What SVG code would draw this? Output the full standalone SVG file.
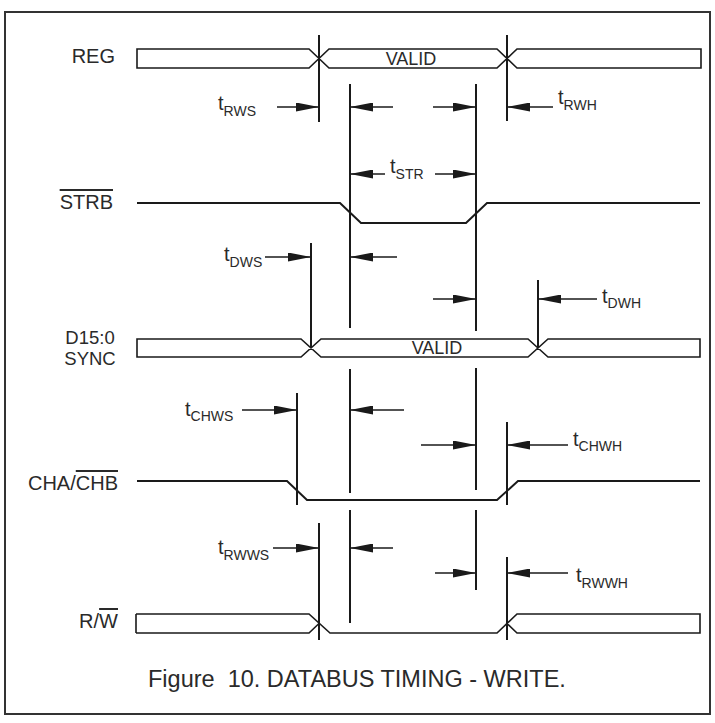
<svg xmlns="http://www.w3.org/2000/svg" width="715" height="723" viewBox="0 0 715 723">
  <defs>
    <marker id="ah" markerUnits="userSpaceOnUse" markerWidth="23" markerHeight="9" refX="23" refY="4.5" orient="auto" viewBox="0 0 23 9">
      <path d="M0,0 L23,4.5 L0,9 Z" fill="#1a1a1a"/>
    </marker>
    <style>
      .frame { fill: #fff; stroke: #333; stroke-width: 2; }
      .bus { fill: none; stroke: #1a1a1a; stroke-width: 1.6; stroke-linejoin: miter; }
      .sig { fill: none; stroke: #1a1a1a; stroke-width: 2; }
      .vl { stroke: #1a1a1a; stroke-width: 2; }
      .arr { stroke: #1a1a1a; stroke-width: 1.6; marker-end: url(#ah); }
      .lbl { font-family: "Liberation Sans", Arial, sans-serif; font-size: 20px; fill: #2a2a2a; }
      .lbl2 { font-family: "Liberation Sans", Arial, sans-serif; font-size: 18.5px; fill: #2a2a2a; text-anchor: middle; }
      .valid { font-family: "Liberation Sans", Arial, sans-serif; font-size: 18px; fill: #2a2a2a; text-anchor: middle; }
      .t { font-family: "Liberation Sans", Arial, sans-serif; font-size: 20px; fill: #2a2a2a; }
      .sub { font-size: 14px; }
      .cap { font-family: "Liberation Sans", Arial, sans-serif; font-size: 23.5px; fill: #2a2a2a; }
    </style>
  </defs>

  <rect class="frame" x="5" y="12" width="705" height="702"/>

  <!-- Signals -->
  <g id="sig-reg">
    <text class="lbl" x="115" y="63" text-anchor="end">REG</text>
    <path class="bus" d="M137,49 H309 L329,68 H497 L517,49 H701 V68 H517 L497,49 H329 L309,68 H137 Z"/>
    <text class="valid" x="411" y="65">VALID</text>
  </g>

  <g id="sig-strb">
    <text class="lbl" x="113" y="209" text-anchor="end"><tspan text-decoration="overline">STRB</tspan></text>
    <polyline class="sig" points="137,203 340,203 361,223 466,223 487,203 700,203"/>
  </g>

  <g id="sig-d15">
    <text class="lbl2" x="90" y="344">D15:0</text>
    <text class="lbl2" x="90" y="365">SYNC</text>
    <path class="bus" d="M137,339 H301 L321,357 H528 L548,339 H700 V357 H548 L528,339 H321 L301,357 H137 Z"/>
    <text class="valid" x="437" y="354">VALID</text>
  </g>

  <g id="sig-cha">
    <text class="lbl" x="118" y="490" text-anchor="end">CHA/<tspan text-decoration="overline">CHB</tspan></text>
    <polyline class="sig" points="137,481 287,481 307,500 497,500 518,481 700,481"/>
  </g>

  <g id="sig-rw">
    <text class="lbl" x="118" y="628" text-anchor="end">R/<tspan text-decoration="overline">W</tspan></text>
    <path class="bus" d="M136,614 V633 M136,614 H309 L330,633 H497 L517,614 H700 V633 H517 L507,623.5 M136,633 H309 L319,623.5"/>
  </g>

  <!-- Timing connectors -->
  <g id="connectors">
    <line class="vl" x1="319" y1="35" x2="319" y2="122"/>
    <line class="vl" x1="507" y1="35" x2="507" y2="121"/>
    <line class="vl" x1="350" y1="84" x2="350" y2="328"/>
    <line class="vl" x1="476" y1="84" x2="476" y2="331"/>
    <line class="vl" x1="311" y1="243" x2="311" y2="348"/>
    <line class="vl" x1="538" y1="280" x2="538" y2="348"/>
    <line class="vl" x1="297" y1="393" x2="297" y2="505"/>
    <line class="vl" x1="350" y1="369" x2="350" y2="493"/>
    <line class="vl" x1="476" y1="368" x2="476" y2="490"/>
    <line class="vl" x1="507" y1="422" x2="507" y2="505"/>
    <line class="vl" x1="319" y1="523" x2="319" y2="640"/>
    <line class="vl" x1="350" y1="510" x2="350" y2="623"/>
    <line class="vl" x1="476" y1="510" x2="476" y2="590"/>
    <line class="vl" x1="507" y1="557" x2="507" y2="640"/>

    <line class="arr" x1="277" y1="107" x2="319" y2="107"/>
    <line class="arr" x1="393" y1="107" x2="350" y2="107"/>
    <line class="arr" x1="433" y1="107" x2="476" y2="107"/>
    <line class="arr" x1="553" y1="107" x2="507" y2="107"/>

    <line class="arr" x1="385" y1="174" x2="350" y2="174"/>
    <line class="arr" x1="435" y1="174" x2="476" y2="174"/>

    <line class="arr" x1="265" y1="257" x2="311" y2="257"/>
    <line class="arr" x1="397" y1="257" x2="350" y2="257"/>
    <line class="arr" x1="433" y1="299" x2="476" y2="299"/>
    <line class="arr" x1="597" y1="299" x2="538" y2="299"/>

    <line class="arr" x1="242" y1="410" x2="297" y2="410"/>
    <line class="arr" x1="404" y1="410" x2="350" y2="410"/>
    <line class="arr" x1="421" y1="445" x2="476" y2="445"/>
    <line class="arr" x1="568" y1="445" x2="507" y2="445"/>

    <line class="arr" x1="273" y1="548" x2="319" y2="548"/>
    <line class="arr" x1="393" y1="548" x2="350" y2="548"/>
    <line class="arr" x1="435" y1="573" x2="476" y2="573"/>
    <line class="arr" x1="568" y1="573" x2="507" y2="573"/>
  </g>

  <!-- Timing labels -->
  <g id="timing-labels">
    <text class="t" x="218" y="110">t<tspan class="sub" dy="6">RWS</tspan></text>
    <text class="t" x="558" y="104">t<tspan class="sub" dy="6">RWH</tspan></text>
    <text class="t" x="390" y="173">t<tspan class="sub" dy="6">STR</tspan></text>
    <text class="t" x="224" y="261">t<tspan class="sub" dy="6">DWS</tspan></text>
    <text class="t" x="602" y="303">t<tspan class="sub" dy="5">DWH</tspan></text>
    <text class="t" x="185" y="416">t<tspan class="sub" dy="5">CHWS</tspan></text>
    <text class="t" x="573" y="446">t<tspan class="sub" dy="5">CHWH</tspan></text>
    <text class="t" x="218" y="554">t<tspan class="sub" dy="6">RWWS</tspan></text>
    <text class="t" x="576" y="582">t<tspan class="sub" dy="6">RWWH</tspan></text>
  </g>

  <text class="cap" x="148" y="687" xml:space="preserve">Figure  10. DATABUS TIMING - WRITE.</text>
</svg>
